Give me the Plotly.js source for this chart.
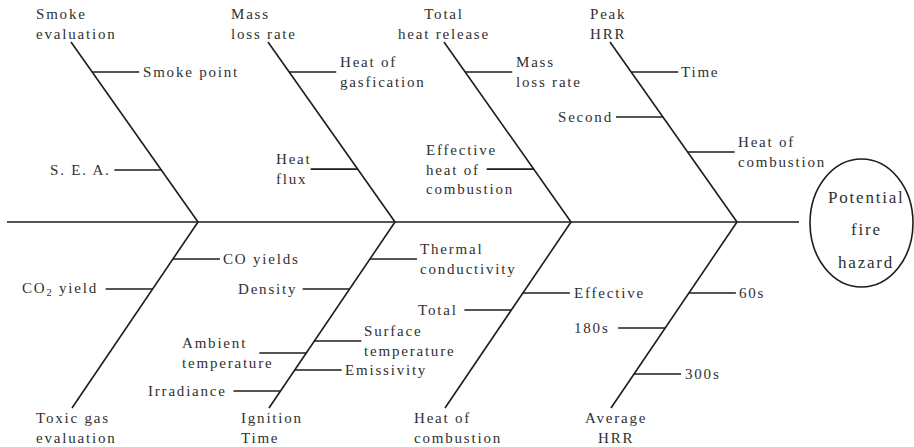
<!DOCTYPE html>
<html>
<head>
<meta charset="utf-8">
<script src="https://cdn.plot.ly/plotly-3.0.1.min.js"></script>
<style>
  html, body { margin: 0; padding: 0; background: #fff; }
  #chart { width: 914px; height: 447px; }
  svg text { letter-spacing: 1.8px; }
</style>
</head>
<body>
<div id="chart"></div>
<script>
// ---------------- DATA ----------------
// Main bones (categories) of the fishbone diagram
const boneNames = [
  'Smoke<br>evaluation', 'Mass<br>loss rate', 'Total<br>heat release', 'Peak<br>HRR',
  'Toxic gas<br>evaluation', 'Ignition<br>Time', 'Heat of<br>combustion', 'Average<br>HRR'
];
const boneSide = ['top', 'top', 'top', 'top', 'bottom', 'bottom', 'bottom', 'bottom'];

// Causes attached to each bone
const causeLabels = [
  'Smoke point', 'S. E. A.',
  'Heat of<br>gasfication', 'Heat<br>flux',
  'Mass<br>loss rate', 'Effective<br>heat of<br>combustion',
  'Time', 'Second', 'Heat of<br>combustion',
  'CO yields', 'CO<sub>2</sub> yield',
  'Thermal<br>conductivity', 'Density', 'Surface<br>temperature', 'Ambient<br>temperature', 'Emissivity', 'Irradiance',
  'Effective', 'Total',
  '60s', '180s', '300s'
];
const causeBone = [0, 0, 1, 1, 2, 2, 3, 3, 3, 4, 4, 5, 5, 5, 5, 5, 5, 6, 6, 7, 7, 7];
// which side of the bone the cause branch points to
const causeDir = ['right', 'left', 'right', 'left', 'right', 'left', 'right', 'left', 'right',
  'right', 'left', 'right', 'left', 'right', 'left', 'right', 'left', 'right', 'left', 'right', 'left', 'right'];
// relative depth of the cause along its bone (0 = spine, 1 = bone tip)
const causeDepth = [0.833, 0.289, 0.833, 0.294, 0.833, 0.294, 0.833, 0.583, 0.389,
  0.199, 0.360, 0.199, 0.360, 0.640, 0.704, 0.796, 0.909, 0.382, 0.473, 0.382, 0.570, 0.817];

// Effect (head of the fish)
const effectWords = ['Potential', 'fire', 'hazard'];

// ---------------- GEOMETRY / STYLE ----------------
const G = {
  W: 914, H: 447,
  spineY: 222, spineX0: 7, spineX1: 799,
  boneSpineX: [198, 395, 571, 737, 198, 395, 571, 737],
  topRise: 180, topRun: 127,
  botDrop: 186, botRun: 126,
  branchLen: 47,
  // bone label placement relative to the bone tip
  boneLabelDx: [-36, -38, 0, -21, -37, -29, -32, 5],
  boneLabelAnchor: ['left', 'left', 'center', 'left', 'left', 'left', 'left', 'center'],
  topLabelY: 24, botLabelY: 428,
  // label offsets from the outer end of the branch
  causeGap: [3, -2, 3, 2, 3, 28, 2, -2, 2, 2, -7, 2, -5, 2, 15, 2, -5, 3, -5, 2, -7, 3],
  ellipse: { x0: 810, x1: 913, y0: 159, y1: 287 },
  effectX: 866, effectY: [197, 229, 262], effectSize: 17,
  lineColor: '#1c1c1c', textColor: '#303030',
  font: 'Liberation Serif, Times New Roman, serif', fontSize: 15
};

const xs = [], ys = [];
function seg(x0, y0, x1, y1) { xs.push(x0, x1, null); ys.push(y0, y1, null); }

// spine
seg(G.spineX0, G.spineY, G.spineX1, G.spineY);

const annotations = [];
function label(text, x, y, xanchor, align, size) {
  annotations.push({
    x: x, y: y, xref: 'x', yref: 'y', text: text, showarrow: false,
    xanchor: xanchor, yanchor: 'middle', align: align, borderpad: 0,
    font: { family: G.font, size: size || G.fontSize, color: G.textColor }
  });
}

// bones
function bonePoint(b, t) {
  const sx = G.boneSpineX[b];
  if (boneSide[b] === 'top') return [sx - G.topRun * t, G.spineY - G.topRise * t];
  return [sx - G.botRun * t, G.spineY + G.botDrop * t];
}
boneNames.forEach((name, b) => {
  const tip = bonePoint(b, 1);
  seg(G.boneSpineX[b], G.spineY, tip[0], tip[1]);
  const ly = boneSide[b] === 'top' ? G.topLabelY : G.botLabelY;
  label(name, tip[0] + G.boneLabelDx[b], ly, G.boneLabelAnchor[b], G.boneLabelAnchor[b] === 'center' ? 'center' : 'left');
});

// cause branches
causeLabels.forEach((txt, i) => {
  const p = bonePoint(causeBone[i], causeDepth[i]);
  if (causeDir[i] === 'right') {
    const xe = p[0] + G.branchLen;
    seg(p[0], p[1], xe, p[1]);
    label(txt, xe + G.causeGap[i], p[1], 'left', 'left');
  } else {
    const xe = p[0] - G.branchLen;
    seg(xe, p[1], p[0], p[1]);
    label(txt, xe + G.causeGap[i], p[1], 'right', 'left');
  }
});

// effect text
effectWords.forEach((w, i) => label(w, G.effectX, G.effectY[i], 'center', 'center', G.effectSize));

const trace = {
  x: xs, y: ys, type: 'scatter', mode: 'lines',
  line: { color: G.lineColor, width: 1.6 }, hoverinfo: 'skip', connectgaps: false
};

const layout = {
  width: G.W, height: G.H,
  margin: { l: 0, r: 0, t: 0, b: 0, pad: 0 },
  paper_bgcolor: '#ffffff', plot_bgcolor: '#ffffff',
  showlegend: false,
  xaxis: { range: [0, G.W], visible: false, fixedrange: true },
  yaxis: { range: [G.H, 0], visible: false, fixedrange: true },
  shapes: [{
    type: 'circle', xref: 'x', yref: 'y',
    x0: G.ellipse.x0, x1: G.ellipse.x1, y0: G.ellipse.y0, y1: G.ellipse.y1,
    line: { color: G.lineColor, width: 1.6 }
  }],
  annotations: annotations
};

Plotly.newPlot('chart', [trace], layout, { staticPlot: true, displayModeBar: false });
</script>
</body>
</html>
